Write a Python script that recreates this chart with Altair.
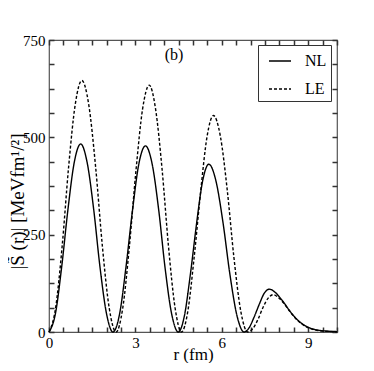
import altair as alt
import pandas as pd

# ---- data ----
series = ["NL", "LE"]

r_nl = [0, 0.22, 0.44, 0.66, 0.88, 1.1, 1.32, 1.55, 1.77, 2.0, 2.22,
        2.45, 2.67, 2.9, 3.12, 3.35, 3.58, 3.81, 4.03, 4.26, 4.49,
        4.70, 4.91, 5.13, 5.34, 5.55, 5.79, 6.04, 6.28, 6.53, 6.77,
        6.95, 7.12, 7.3, 7.47, 7.65,
        7.8, 8.0, 8.14, 8.37, 8.55, 8.72, 8.9, 9.07, 9.25, 9.42, 9.7, 10.0]
s_nl = [0, 46, 167, 316, 437, 483, 437, 316, 167, 46, 0,
        46, 165, 313, 432, 478, 432, 313, 165, 46, 0,
        41, 149, 282, 390, 431, 390, 282, 149, 41, 0,
        11, 38, 71, 99, 110,
        105, 90, 77, 53, 37, 25, 16, 10, 6, 4, 2, 1]

r_le = [0, 0.23, 0.46, 0.68, 0.91, 1.14, 1.38, 1.62, 1.85, 2.09, 2.33,
        2.56, 2.79, 3.02, 3.25, 3.48, 3.70, 3.93, 4.15, 4.38, 4.60,
        4.82, 5.04, 5.27, 5.49, 5.71, 5.95, 6.19, 6.42, 6.66, 6.90,
        7.08, 7.26, 7.43, 7.61, 7.79,
        8.0, 8.14, 8.37, 8.55, 8.72, 8.9, 9.07, 9.25, 9.42, 9.7, 10.0]
s_le = [0, 62, 223, 423, 584, 646, 584, 423, 223, 62, 0,
        61, 219, 415, 573, 634, 573, 415, 219, 61, 0,
        53, 192, 364, 503, 556, 503, 364, 192, 53, 0,
        9, 33, 63, 87, 96,
        86, 75, 52, 36, 24, 15, 9, 5, 3, 1.5, 0.5]

x_ticks = [0, 0.5, 1, 1.5, 2, 2.5, 3, 3.5, 4, 4.5, 5, 5.5, 6, 6.5, 7, 7.5, 8, 8.5, 9, 9.5, 10]
y_ticks = [0, 62.5, 125, 187.5, 250, 312.5, 375, 437.5, 500, 562.5, 625, 687.5, 750]
x_labels = [0, 3, 6, 9]
y_labels = [0, 250, 500, 750]

df = pd.concat([
    pd.DataFrame({"r": r_nl, "s": s_nl, "series": "NL"}),
    pd.DataFrame({"r": r_le, "s": s_le, "series": "LE"}),
], ignore_index=True)

FONT = "Liberation Serif"
FRAME = "#555555"
TICK = "#333333"
W, H = 288, 292

xscale = alt.Scale(domain=[0, 10], nice=False, zero=False)
yscale = alt.Scale(domain=[0, 750], nice=False)

x_bottom = alt.Axis(
    values=x_labels, format="d", labelOverlap=False, labelFlush=False,
    grid=False, domain=False, ticks=False, labelPadding=3,
    labelFont=FONT, labelFontSize=15, labelColor="black",
    titleFont=FONT, titleFontSize=17, titleFontWeight="normal", titleColor="black",
    titleY=27, titleBaseline="alphabetic",
)
y_left = alt.Axis(
    values=y_labels, format="d", labelOverlap=False, labelFlush=False,
    grid=False, domain=False, ticks=False, labelPadding=4,
    labelFont=FONT, labelFontSize=15, labelColor="black",
    titleFont=FONT, titleFontSize=19, titleFontWeight="normal", titleColor="black",
    titleX=-32, titleY=161, titleAngle=270, titleBaseline="middle", titleAlign="center",
)

# inward ticks: an axis of the opposite side, shifted across the plot area
def tick_axis(orient, values, off):
    return alt.Axis(orient=orient, values=values, offset=off, labels=False, grid=False,
                    domain=False, ticks=True, tickSize=5, tickColor=TICK, tickWidth=1.5,
                    title="")

lines = alt.Chart(df).mark_line(color="black", strokeWidth=1.4, interpolate="monotone").encode(
    x=alt.X("r:Q", scale=xscale, axis=x_bottom, title="r (fm)"),
    y=alt.Y("s:Q", scale=yscale, axis=y_left, title="|S̃ (r)| [MeVfm¹/²]"),
    strokeDash=alt.StrokeDash(
        "series:N",
        scale=alt.Scale(domain=series, range=[[1, 0], [3, 2]]),
        legend=alt.Legend(
            title=None, orient="none", legendX=209, legendY=5,
            strokeColor="#333333", padding=4, symbolOffset=6,
            symbolType="stroke", symbolSize=484, symbolStrokeWidth=1.4,
            symbolStrokeColor="black", rowPadding=8, labelOffset=13,
            labelFont=FONT, labelFontSize=16, labelColor="black",
        ),
    ),
)

ticks_a = alt.Chart(df).mark_line(opacity=0).encode(
    x=alt.X("r:Q", scale=xscale, axis=tick_axis("top", x_ticks, -H)),
    y=alt.Y("s:Q", scale=yscale, axis=tick_axis("right", y_ticks, -W)),
)
ticks_b = alt.Chart(df).mark_line(opacity=0).encode(
    x=alt.X("r:Q", scale=xscale, axis=tick_axis("bottom", x_ticks, -H)),
    y=alt.Y("s:Q", scale=yscale, axis=tick_axis("left", y_ticks, -W)),
)

chart = alt.layer(lines, ticks_a, ticks_b).resolve_axis(x="independent", y="independent").properties(
    width=W, height=H,
    autosize=alt.AutoSizeParams(type="none"),
    padding={"left": 41, "top": 32, "right": 29, "bottom": 31},
    title=alt.Title("(b)", font=FONT, fontSize=16, fontWeight="normal", color="black",
                    anchor="middle", dx=-19, offset=-30, baseline="top"),
).configure_view(stroke=FRAME, strokeWidth=1.2)

chart.save("out.html", embed_options={"renderer": "svg", "actions": False})
